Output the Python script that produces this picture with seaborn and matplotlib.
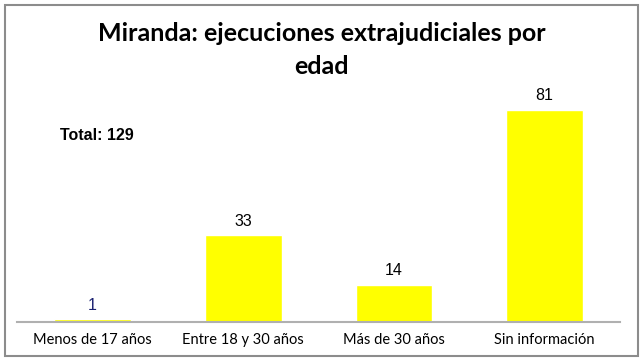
import matplotlib
matplotlib.use("Agg")
import matplotlib.pyplot as plt
import seaborn as sns
import pandas as pd
from matplotlib.patches import Rectangle

# data
categorias = ["Menos de 17 años", "Entre 18 y 30 años", "Más de 30 años", "Sin información"]
valores = [1, 33, 14, 81]
total = 129

df = pd.DataFrame({"edad": categorias, "casos": valores})

sns.set_style("white")
plt.rcParams['font.family'] = ['Lato', 'DejaVu Sans']
plt.rcParams['text.color'] = 'black'
plt.rcParams['xtick.color'] = 'black'

fig = plt.figure(figsize=(6.43, 3.63), dpi=100)
ax = fig.add_axes([0.027, 0.113, 0.937, 0.65])

sns.barplot(x="edad", y="casos", data=df, color="#FFFF00", saturation=1,
            width=0.51, ax=ax)
ax.set_ylim(0, 90)

# value labels
for i, v in enumerate(valores):
    col = "#1a2070" if i == 0 else "black"
    ax.text(i, v + 2.6, str(v), ha="center", va="bottom", fontsize=11.5,
            family="Liberation Sans", color=col)

ax.set_xlabel("")
ax.set_ylabel("")
ax.set_yticks([])
ax.tick_params(axis="x", length=0, labelsize=10.5, pad=8, labelcolor="black")
for s in ["top", "right", "left"]:
    ax.spines[s].set_visible(False)
ax.spines["bottom"].set_color("#b0b0b0")
ax.spines["bottom"].set_linewidth(1.5)

fig.text(0.5, 0.907, "Miranda: ejecuciones extrajudiciales por", ha="center", va="center",
         fontsize=18, fontweight="bold")
fig.text(0.5, 0.818, "edad", ha="center", va="center", fontsize=18, fontweight="bold")
fig.text(0.094, 0.627, "Total: " + str(total), ha="left", va="center", fontsize=11.5,
         fontweight="bold", family="Liberation Sans")

# border
fig.patches.append(Rectangle((0.008, 0.018), 0.984, 0.968, transform=fig.transFigure,
                             fill=False, edgecolor="#8c8c8c", linewidth=1.5))

plt.savefig("out.png", dpi=100)
